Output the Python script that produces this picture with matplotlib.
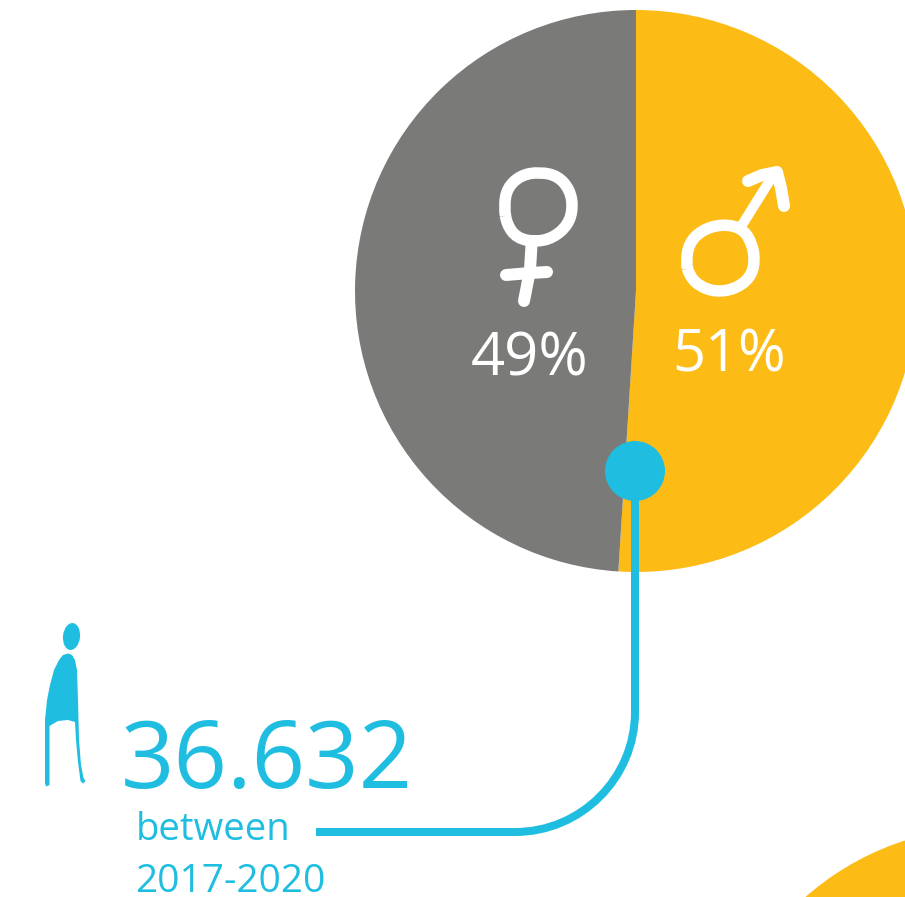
import matplotlib
matplotlib.use('Agg')
import matplotlib.pyplot as plt
from matplotlib.patches import Circle, Ellipse, Polygon, PathPatch
from matplotlib.path import Path

# values
gender_labels = ['51%', '49%']
gender_shares = [51, 49]
total_text = '36.632'
period_lines = ['between', '2017-2020']

YELLOW = '#fdbb16'
GRAY = '#7a7a78'
BLUE = '#1fbee0'

plt.rcParams['font.family'] = ['Open Sans', 'DejaVu Sans']

# px = px in the reference, 1pt = 100/72 px
def px(w):
    return w * 72 / 100

# closed smooth loop for the hand drawn rings, corners are the control points
def ring(points):
    mids = [((a[0] + b[0]) / 2, (a[1] + b[1]) / 2)
            for a, b in zip(points, points[1:] + points[:1])]
    verts = [mids[-1]]
    codes = [Path.MOVETO]
    for ctrl, mid in zip(points, mids):
        verts += [ctrl, mid]
        codes += [Path.CURVE3, Path.CURVE3]
    return Path(verts, codes)

fig = plt.figure(figsize=(9.05, 8.97), dpi=100)
ax = fig.add_axes([0, 0, 1, 1])

# y axis runs downwards, so the pie goes clockwise from the top
ax.pie(gender_shares, colors=[YELLOW, GRAY], center=(636, 291), radius=281,
       startangle=-90, counterclock=True, wedgeprops={'linewidth': 0})
ax.set_xlim(0, 905)
ax.set_ylim(897, 0)
ax.set_aspect('auto')
ax.axis('off')

# part of the next pie, bottom right
ax.add_patch(Circle((991, 1108), 281, fc=YELLOW, ec='none'))

# connector
conn = Path([(635, 471), (635, 712), (635, 778), (581, 832), (515, 832), (316, 832)],
            [Path.MOVETO, Path.LINETO, Path.CURVE4, Path.CURVE4, Path.CURVE4, Path.LINETO])
ax.add_patch(PathPatch(conn, fc='none', ec=BLUE, lw=px(8), capstyle='butt'))
ax.add_patch(Circle((635, 471), 30, fc=BLUE, ec='none', zorder=3))

# female sign
white = dict(color='white', lw=px(12), solid_capstyle='round')
female_ring = [(504, 207), (507, 188), (521, 175), (540, 172), (558, 176), (570, 190),
               (573, 208), (568, 225), (553, 238), (535, 242), (517, 238), (507, 225)]
ax.add_patch(PathPatch(ring(female_ring), fc='none', ec='white', lw=px(11.5)))
ax.plot([531.5, 530, 524], [245, 270, 301], **white)
ax.plot([506, 530, 547], [275, 273, 272], **white)

# male sign
male_ring = [(686, 262), (689, 243), (702, 230), (722, 224), (742, 228), (752, 243),
             (755, 262), (750, 278), (735, 289), (716, 292), (699, 286), (689, 275)]
ax.add_patch(PathPatch(ring(male_ring), fc='none', ec='white', lw=px(11.5)))
ax.plot([742, 772], [225, 177], color='white', lw=px(10), solid_capstyle='butt')
ax.plot([748, 762, 777, 781, 784], [181, 175, 172, 188, 206], **white)

# person
ax.add_patch(Ellipse((71.5, 636.5), 17, 27, angle=6, fc=BLUE, ec='none'))
body = [(68, 653.5), (72, 655), (75, 660), (77, 670), (78, 700), (79, 740), (81, 765),
        (83.5, 778), (85.5, 781), (83, 783.5), (80.5, 781), (78, 762), (76, 740), (75, 722),
        (68, 720), (58, 721), (49.5, 726), (49.5, 785), (46, 786.5), (45, 783), (45, 720),
        (47, 700), (50, 685), (54, 670), (59, 660), (63, 655)]
ax.add_patch(Polygon(body, closed=True, fc=BLUE, ec='none'))

# text
ax.text(729, 371, gender_labels[0], color='white', fontsize=41.5, ha='center', va='baseline')
ax.text(529.5, 375, gender_labels[1], color='white', fontsize=43, ha='center', va='baseline')
ax.text(120.5, 788, total_text, color=BLUE, fontsize=67.5, ha='left', va='baseline')
ax.text(136, 840, period_lines[0], color=BLUE, fontsize=27.5, ha='left', va='baseline')
ax.text(135, 892, period_lines[1], color=BLUE, fontsize=28, ha='left', va='baseline')

fig.savefig('out.png', dpi=100)
